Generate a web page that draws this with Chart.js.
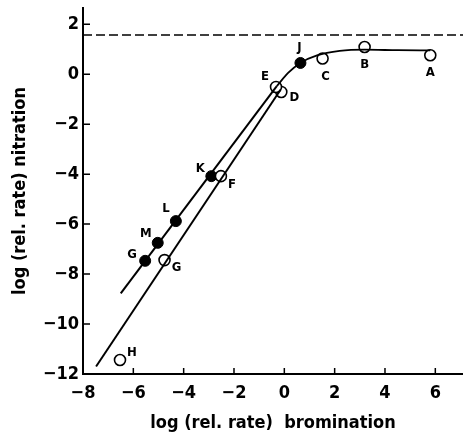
<!DOCTYPE html>
<html>
<head>
<meta charset="utf-8">
<script src="https://cdn.jsdelivr.net/npm/chart.js@4.4.1/dist/chart.umd.min.js"></script>
<style>
  html, body { margin: 0; padding: 0; background: #fff; }
  #wrap { width: 463px; height: 438px; }
</style>
</head>
<body>
<div id="wrap"><canvas id="c" width="463" height="438"></canvas></div>
<script>
// open circles (A..H)
const openNames = ['A', 'B', 'C', 'D', 'E', 'F', 'G', 'H'];
const openX = [5.8, 3.19, 1.52, -0.12, -0.33, -2.52, -4.76, -6.53];
const openY = [0.76, 1.09, 0.63, -0.71, -0.51, -4.08, -7.44, -11.44];

// filled circles
const filledNames = ['J', 'K', 'L', 'M', 'G'];
const filledX = [0.64, -2.9, -4.31, -5.03, -5.53];
const filledY = [0.45, -4.08, -5.88, -6.75, -7.47];

// straight lines
const lineOpenX = [-7.48, -0.15];
const lineOpenY = [-11.7, -0.62];
const lineFilledX = [-6.5, -0.3];
const lineFilledY = [-8.77, -0.48];

// curve through the top
const curveX = [-0.3, 0.15, 0.64, 1.3, 2.2, 3.2, 4.5, 5.8];
const curveY = [-0.48, 0.05, 0.45, 0.75, 0.93, 0.98, 0.96, 0.95];

// dashed limit
const limitY = 1.57;

const xTicks = [-8, -6, -4, -2, 0, 2, 4, 6];
const yTicks = [2, 0, -2, -4, -6, -8, -10, -12];

// label offsets in px, per point (style only)
const openOffsets = [[0, 17], [0, 18], [3, 18], [13, 6], [-11, -10], [11, 8], [12, 8], [12, -7]];
const filledOffsets = [[-1, -15], [-11, -8], [-10, -12], [-12, -9], [-13, -6]];

const FONT = '"DejaVu Sans Condensed", "DejaVu Sans", sans-serif';

const pts = (xs, ys) => xs.map((x, i) => ({ x: x, y: ys[i] }));
const fmt = v => (v < 0 ? '\u2212' + Math.abs(v) : String(v));

const letterPlugin = {
  id: 'letters',
  afterDatasetsDraw(chart) {
    const ctx = chart.ctx;
    const xs = chart.scales.x, ys = chart.scales.y;
    ctx.save();
    ctx.fillStyle = '#000';
    ctx.font = 'bold 13px ' + FONT;
    ctx.textAlign = 'center';
    ctx.textBaseline = 'middle';
    openNames.forEach((n, i) => {
      ctx.fillText(n, xs.getPixelForValue(openX[i]) + openOffsets[i][0], ys.getPixelForValue(openY[i]) + openOffsets[i][1]);
    });
    filledNames.forEach((n, i) => {
      ctx.fillText(n, xs.getPixelForValue(filledX[i]) + filledOffsets[i][0], ys.getPixelForValue(filledY[i]) + filledOffsets[i][1]);
    });
    ctx.restore();
  }
};

// inward tick marks
const tickPlugin = {
  id: 'inTicks',
  afterDraw(chart) {
    const ctx = chart.ctx;
    const a = chart.chartArea;
    ctx.save();
    ctx.strokeStyle = '#000';
    ctx.lineWidth = 1.5;
    ctx.beginPath();
    xTicks.forEach(v => {
      const px = chart.scales.x.getPixelForValue(v);
      ctx.moveTo(px, a.bottom);
      ctx.lineTo(px, a.bottom - 6);
    });
    yTicks.forEach(v => {
      const py = chart.scales.y.getPixelForValue(v);
      ctx.moveTo(a.left, py);
      ctx.lineTo(a.left + 7, py);
    });
    ctx.stroke();
    ctx.restore();
  }
};

new Chart(document.getElementById('c'), {
  type: 'scatter',
  data: {
    datasets: [
      {
        data: pts([-8, 7.1], [limitY, limitY]),
        showLine: true, borderColor: '#000', borderWidth: 1.5, borderDash: [9, 4],
        pointRadius: 0
      },
      {
        data: pts(lineOpenX, lineOpenY),
        showLine: true, borderColor: '#000', borderWidth: 2, pointRadius: 0
      },
      {
        data: pts(lineFilledX, lineFilledY),
        showLine: true, borderColor: '#000', borderWidth: 2, pointRadius: 0
      },
      {
        data: pts(curveX, curveY),
        showLine: true, borderColor: '#000', borderWidth: 1.8, tension: 0.4, pointRadius: 0,
        cubicInterpolationMode: 'monotone'
      },
      {
        data: pts(openX, openY),
        pointRadius: 5.5, pointBackgroundColor: '#fff', pointBorderColor: '#000', pointBorderWidth: 1.6
      },
      {
        data: pts(filledX, filledY),
        pointRadius: 5.5, pointBackgroundColor: '#000', pointBorderColor: '#000', pointBorderWidth: 1
      }
    ]
  },
  options: {
    responsive: false,
    animation: false,
    layout: { autoPadding: false, padding: { top: 8, right: 0, left: 0, bottom: 0 } },
    plugins: { legend: { display: false }, tooltip: { enabled: false } },
    scales: {
      x: {
        type: 'linear', min: -8, max: 7.1,
        afterFit: s => { s.height = 64; s.paddingLeft = 0; s.paddingRight = 0; },
        grid: { display: false, drawTicks: false },
        border: { display: true, color: '#000', width: 2 },
        ticks: {
          stepSize: 2, includeBounds: false, padding: 9, color: '#000',
          font: { family: FONT, size: 18, weight: 'bold' },
          callback: v => fmt(v)
        },
        title: {
          display: true, text: 'log (rel. rate)  bromination', color: '#000',
          font: { family: FONT, size: 18, weight: 'bold' },
          padding: { top: 0, bottom: 4 }
        }
      },
      y: {
        type: 'linear', min: -12, max: 2.65,
        afterFit: s => { s.width = 83; s.paddingTop = 0; s.paddingBottom = 0; },
        grid: { display: false, drawTicks: false },
        border: { display: true, color: '#000', width: 2 },
        ticks: {
          stepSize: 2, includeBounds: false, padding: 4, color: '#000',
          font: { family: FONT, size: 18, weight: 'bold' },
          callback: v => fmt(v)
        },
        title: {
          display: true, text: 'log (rel. rate) nitration', color: '#000',
          font: { family: FONT, size: 18, weight: 'bold' },
          padding: { top: 10, bottom: 0 }
        }
      }
    }
  },
  plugins: [letterPlugin, tickPlugin]
});
</script>
</body>
</html>
